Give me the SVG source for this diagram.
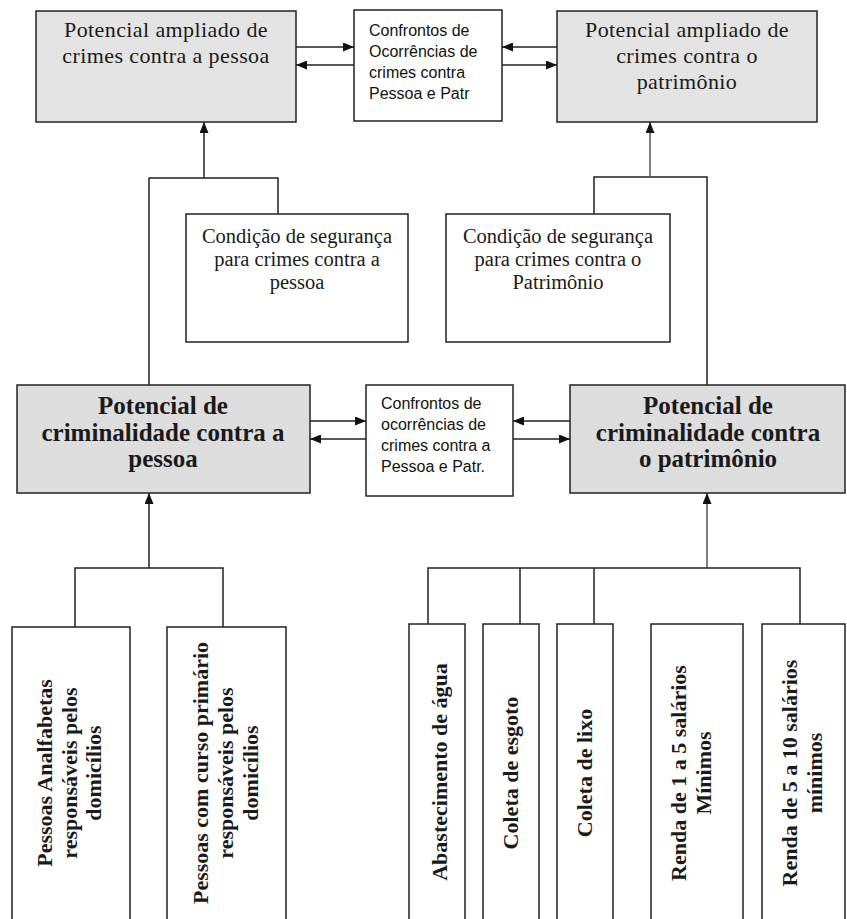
<svg xmlns="http://www.w3.org/2000/svg" width="847" height="919" viewBox="0 0 847 919">
<defs>
<marker id="ah" markerUnits="userSpaceOnUse" markerWidth="11" markerHeight="9" refX="11" refY="4.5" orient="auto">
<path d="M0,0 L11,4.5 L0,9 z" fill="#111"/>
</marker>
<style>
.box{stroke:#222;stroke-width:1.5;}
.gray{fill:#e3e3e3;}
.gray2{fill:#dddddd;}
.white{fill:#ffffff;}
.ln{fill:none;stroke:#222;stroke-width:1.5;}
.lg{fill:none;stroke:#555;stroke-width:1.5;}
.ser{font-family:'Liberation Serif','Times New Roman',serif;fill:#1a1a1a;}
.top{font-size:22px;letter-spacing:0.4px;text-anchor:middle;font-weight:normal;}
.cond{font-size:20.5px;text-anchor:middle;font-weight:normal;}
.mid{font-size:25px;font-weight:bold;text-anchor:middle;}
.rot{font-size:22px;font-weight:bold;text-anchor:middle;}
.sans{font-family:'Liberation Sans',Arial,sans-serif;font-size:16px;fill:#111;}
</style>
</defs>
<rect width="847" height="919" fill="#ffffff"/>

<g id="connectors">
<line class="ln" x1="296" y1="47" x2="354" y2="47" marker-end="url(#ah)"/>
<line class="ln" x1="354" y1="65" x2="296" y2="65" marker-end="url(#ah)"/>
<line class="ln" x1="557" y1="47" x2="502" y2="47" marker-end="url(#ah)"/>
<line class="ln" x1="502" y1="65" x2="557" y2="65" marker-end="url(#ah)"/>
<line class="ln" x1="310" y1="421" x2="366" y2="421" marker-end="url(#ah)"/>
<line class="ln" x1="366" y1="439" x2="310" y2="439" marker-end="url(#ah)"/>
<line class="ln" x1="570" y1="421" x2="513" y2="421" marker-end="url(#ah)"/>
<line class="ln" x1="513" y1="439" x2="570" y2="439" marker-end="url(#ah)"/>
<polyline class="ln" points="149,385 149,178 278,178 278,214"/>
<line class="ln" x1="204" y1="178" x2="204" y2="122" marker-end="url(#ah)"/>
<polyline class="ln" points="707,385 707,177 594,177 594,214"/>
<line class="lg" x1="650" y1="177" x2="650" y2="122" marker-end="url(#ah)"/>
<line class="ln" x1="149" y1="568" x2="149" y2="493" marker-end="url(#ah)"/>
<polyline class="ln" points="75,627 75,568 223,568 223,627"/>
<line class="lg" x1="707" y1="568" x2="707" y2="493" marker-end="url(#ah)"/>
<polyline class="ln" points="428,624 428,568 800,568 800,624"/>
<line class="ln" x1="520" y1="568" x2="520" y2="624"/>
<line class="ln" x1="594" y1="568" x2="594" y2="624"/>
</g>

<g id="n_amp_pessoa">
<rect class="box gray" x="36" y="11" width="260" height="111"/>
<text class="ser top" x="166" y="37">Potencial ampliado de</text>
<text class="ser top" x="166" y="63">crimes contra a pessoa</text>
</g>
<g id="n_conf_top">
<rect class="box white" x="354" y="10" width="148" height="111"/>
<text class="sans" x="369" y="36">Confrontos de</text>
<text class="sans" x="369" y="57">Ocorrências de</text>
<text class="sans" x="369" y="78">crimes contra</text>
<text class="sans" x="369" y="99">Pessoa e Patr</text>
</g>
<g id="n_amp_patr">
<rect class="box gray" x="557" y="11" width="260" height="111"/>
<text class="ser top" x="687" y="37">Potencial ampliado de</text>
<text class="ser top" x="687" y="63">crimes contra o</text>
<text class="ser top" x="687" y="89">patrimônio</text>
</g>
<g id="n_cond_pessoa">
<rect class="box white" x="186" y="214" width="222" height="128"/>
<text class="ser cond" x="297" y="243">Condição de segurança</text>
<text class="ser cond" x="297" y="266">para crimes contra a</text>
<text class="ser cond" x="297" y="289">pessoa</text>
</g>
<g id="n_cond_patr">
<rect class="box white" x="446" y="214" width="224" height="128"/>
<text class="ser cond" x="558" y="243">Condição de segurança</text>
<text class="ser cond" x="558" y="266">para crimes contra o</text>
<text class="ser cond" x="558" y="289">Patrimônio</text>
</g>
<g id="n_pot_pessoa">
<rect class="box gray2" x="17" y="385" width="293" height="108"/>
<text class="ser mid" x="163" y="414">Potencial de</text>
<text class="ser mid" x="163" y="441">criminalidade contra a</text>
<text class="ser mid" x="163" y="467">pessoa</text>
</g>
<g id="n_conf_mid">
<rect class="box white" x="366" y="385" width="147" height="111"/>
<text class="sans" x="381" y="409">Confrontos de</text>
<text class="sans" x="381" y="430">ocorrências de</text>
<text class="sans" x="381" y="451">crimes contra a</text>
<text class="sans" x="381" y="472">Pessoa e Patr.</text>
</g>
<g id="n_pot_patr">
<rect class="box gray2" x="570" y="385" width="275" height="108"/>
<text class="ser mid" x="708" y="414">Potencial de</text>
<text class="ser mid" x="708" y="441">criminalidade contra</text>
<text class="ser mid" x="708" y="467">o patrimônio</text>
</g>

<g id="n_analf">
<rect class="box white" x="12" y="627" width="118" height="300"/>
<text class="ser rot" transform="translate(52,773) rotate(-90)" x="0" y="0">Pessoas Analfabetas</text>
<text class="ser rot" transform="translate(77,773) rotate(-90)" x="0" y="0">responsáveis pelos</text>
<text class="ser rot" transform="translate(101,773) rotate(-90)" x="0" y="0">domicílios</text>
</g>
<g id="n_primario">
<rect class="box white" x="167" y="627" width="119" height="300"/>
<text class="ser rot" transform="translate(208,773) rotate(-90)" x="0" y="0">Pessoas com curso primário</text>
<text class="ser rot" transform="translate(233,773) rotate(-90)" x="0" y="0">responsáveis pelos</text>
<text class="ser rot" transform="translate(258,773) rotate(-90)" x="0" y="0">domicílios</text>
</g>
<g id="n_agua">
<rect class="box white" x="409" y="624" width="56" height="300"/>
<text class="ser rot" transform="translate(447,772) rotate(-90)" x="0" y="0">Abastecimento de água</text>
</g>
<g id="n_esgoto">
<rect class="box white" x="483" y="624" width="56" height="300"/>
<text class="ser rot" transform="translate(518,773) rotate(-90)" x="0" y="0">Coleta de esgoto</text>
</g>
<g id="n_lixo">
<rect class="box white" x="557" y="624" width="56" height="300"/>
<text class="ser rot" transform="translate(592,773) rotate(-90)" x="0" y="0">Coleta de lixo</text>
</g>
<g id="n_renda15">
<rect class="box white" x="651" y="624" width="92" height="300"/>
<text class="ser rot" transform="translate(686,773) rotate(-90)" x="0" y="0">Renda de 1 a 5 salários</text>
<text class="ser rot" transform="translate(711,773) rotate(-90)" x="0" y="0">Mínimos</text>
</g>
<g id="n_renda510">
<rect class="box white" x="762" y="624" width="83" height="300"/>
<text class="ser rot" transform="translate(797,773) rotate(-90)" x="0" y="0">Renda de 5 a 10 salários</text>
<text class="ser rot" transform="translate(822,773) rotate(-90)" x="0" y="0">mínimos</text>
</g>
</svg>
